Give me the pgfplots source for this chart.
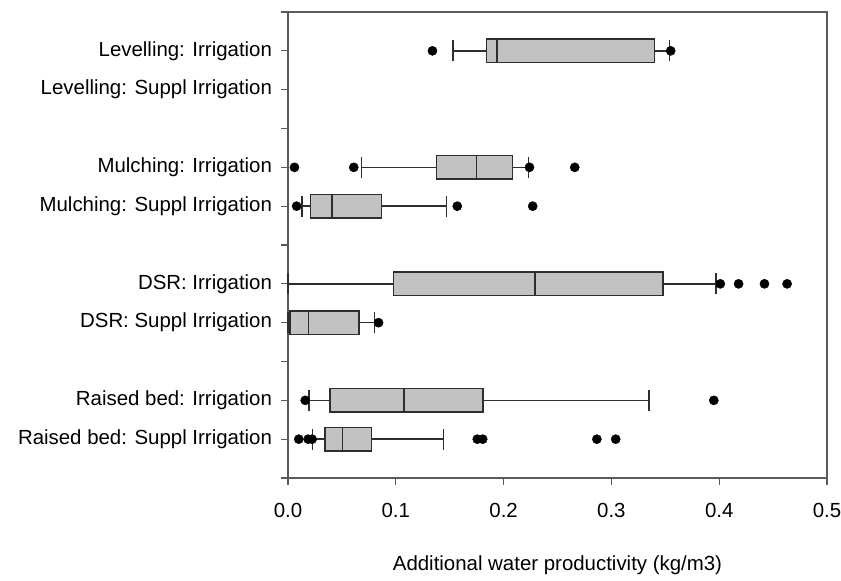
\documentclass[border=0pt]{standalone}
\usepackage{pgfplots}
\pgfplotsset{compat=1.18}
\usepgfplotslibrary{statistics}
\usepackage{fontspec}
\setmainfont{Liberation Sans}

\definecolor{boxfill}{HTML}{C2C2C2}
\definecolor{boxline}{HTML}{2E2E2E}
\definecolor{axisgray}{HTML}{5A5A5A}

\begin{document}
\begin{tikzpicture}
\begin{axis}[
    name=ax,
    scale only axis,
    width=539bp,
    height=466bp,
    xmin=0, xmax=0.5,
    ymin=0, ymax=12,
    xtick={0,0.1,0.2,0.3,0.4,0.5},
    ytick={0,1,2,3,4,5,6,7,8,9,10,11,12},
    yticklabels={,Raised bed: Suppl Irrigation,Raised bed: Irrigation,,DSR: Suppl Irrigation,DSR: Irrigation,,Mulching: Suppl Irrigation,Mulching: Irrigation,,Levelling: Suppl Irrigation,Levelling: Irrigation,},
    xticklabel style={yshift=-15bp, /pgf/number format/.cd, fixed, fixed zerofill, precision=1, assume math mode=true},
    yticklabel style={xshift=-6bp},
    tick label style={font=\fontsize{20.5}{24}\selectfont, text=black},
    label style={font=\fontsize{20.5}{24}\selectfont},
    xlabel={Additional water productivity (kg/m3)},
    xlabel style={at={(axis description cs:0.5,0)}, anchor=center, yshift=-87bp},
    tick align=outside,
    major tick length=6.5bp,
    xtick pos=bottom, ytick pos=left,
    axis line style={axisgray, line width=1.6bp},
    every tick/.style={axisgray, line width=1.3bp},
    clip=false,
    boxplot/draw direction=x,
    boxplot/box extend=0.6,
    boxplot/whisker extend=0.54,
]
% Levelling: Irrigation
\addplot[draw=boxline, fill=boxfill, line width=1.4bp, boxplot prepared={draw position=11,
    lower whisker=0.153, lower quartile=0.184, median=0.194, upper quartile=0.340, upper whisker=0.354}] coordinates {};
% Mulching: Irrigation
\addplot[draw=boxline, fill=boxfill, line width=1.4bp, boxplot prepared={draw position=8,
    lower whisker=0.068, lower quartile=0.138, median=0.175, upper quartile=0.208, upper whisker=0.223}] coordinates {};
% Mulching: Suppl Irrigation
\addplot[draw=boxline, fill=boxfill, line width=1.4bp, boxplot prepared={draw position=7,
    lower whisker=0.013, lower quartile=0.021, median=0.041, upper quartile=0.087, upper whisker=0.147}] coordinates {};
% DSR: Irrigation
\addplot[draw=boxline, fill=boxfill, line width=1.4bp, boxplot prepared={draw position=5,
    lower whisker=0.0, lower quartile=0.098, median=0.229, upper quartile=0.348, upper whisker=0.397}] coordinates {};
% DSR: Suppl Irrigation
\addplot[draw=boxline, fill=boxfill, line width=1.4bp, boxplot prepared={draw position=4,
    lower whisker=0.0, lower quartile=0.002, median=0.019, upper quartile=0.066, upper whisker=0.080}] coordinates {};
% Raised bed: Irrigation
\addplot[draw=boxline, fill=boxfill, line width=1.4bp, boxplot prepared={draw position=2,
    lower whisker=0.0196, lower quartile=0.039, median=0.1075, upper quartile=0.181, upper whisker=0.335}] coordinates {};
% Raised bed: Suppl Irrigation
\addplot[draw=boxline, fill=boxfill, line width=1.4bp, boxplot prepared={draw position=1,
    lower whisker=0.023, lower quartile=0.0345, median=0.0506, upper quartile=0.0775, upper whisker=0.144}] coordinates {};
% outliers
\addplot[only marks, mark=*, mark size=4.6bp, black] coordinates {
    (0.134,11) (0.355,11)
    (0.006,8) (0.061,8) (0.224,8) (0.266,8)
    (0.008,7) (0.157,7) (0.227,7)
    (0.401,5) (0.418,5) (0.442,5) (0.463,5)
    (0.084,4)
    (0.016,2) (0.395,2)
    (0.010,1) (0.0187,1) (0.0224,1) (0.1756,1) (0.1806,1) (0.2865,1) (0.304,1)
};
\end{axis}
\pgfresetboundingbox
\path ([xshift=-288bp,yshift=-102bp]ax.south west) rectangle ([xshift=14bp,yshift=12bp]ax.north east);
\end{tikzpicture}
\end{document}
